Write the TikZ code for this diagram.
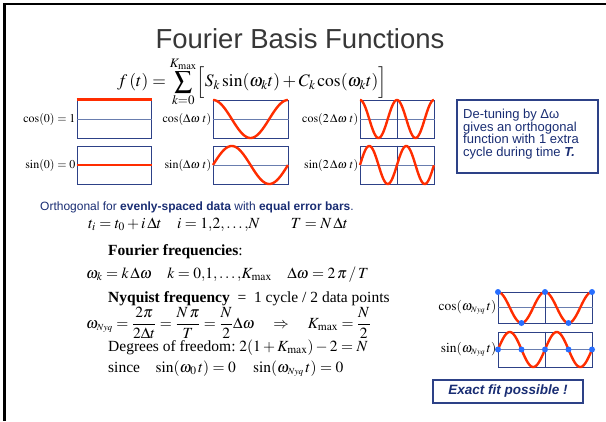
\documentclass[tikz,border=0pt]{standalone}
\usepackage{mathptmx}
\usepackage{fontspec}
\setmainfont{Liberation Serif}
\newfontfamily\arial{Liberation Sans}
\definecolor{boxc}{RGB}{45,65,135}
\definecolor{midc}{RGB}{105,125,175}
\definecolor{wavec}{RGB}{255,45,0}
\definecolor{navy}{RGB}{25,45,115}
\definecolor{dotc}{RGB}{40,110,255}
\definecolor{titlec}{RGB}{55,55,55}
\tikzset{
  plotbox/.style={draw=boxc, line width=1pt, inner sep=0pt},
  midline/.style={draw=midc, line width=1pt},
  vline/.style={draw=boxc, line width=0.9pt},
  wave/.style={draw=wavec, line width=2.4pt},
  lab/.style={anchor=east, inner sep=1pt, font=\fontsize{12}{12}\selectfont},
  nlab/.style={anchor=east, inner sep=1pt, font=\fontsize{13.5}{14}\selectfont},
  mline/.style={anchor=base west, inner sep=0pt, font=\fontsize{15.5}{17}\selectfont},
  ndot/.style={circle, fill=dotc, inner sep=0pt, minimum size=6pt},
  infobox/.style={draw=boxc, line width=1.2pt, inner sep=0pt, text=navy}
}
\begin{document}
\begin{tikzpicture}[x=1pt,y=-1pt]
\useasboundingbox (0,0) rectangle (606,421);
% frame
\draw[line width=2pt] (3,4) -- (606,4);
\draw[line width=3pt] (4.5,3) -- (4.5,421);
% title
\node[font={\arial\fontsize{27.5}{29}\selectfont}, text=titlec, inner sep=0pt] (title) at (300,39) {Fourier Basis Functions};
\node[font=\fontsize{17.5}{19}\selectfont, inner sep=0pt] (formula) at (252,82)
  {$\displaystyle f\,(t) = \sum_{k=0}^{K_{\max}} \Bigl[ S_k \sin(\omega_k t) + C_k \cos(\omega_k t) \Bigr]$};
% boxes row 1
\node[plotbox, minimum width=74pt, minimum height=38pt] (b1) at (114,119) {};
\node[plotbox, minimum width=75pt, minimum height=38pt] (b2) at (250.5,119) {};
\node[plotbox, minimum width=74pt, minimum height=38pt] (b3) at (397,119) {};
% boxes row 2
\node[plotbox, minimum width=74pt, minimum height=38pt] (b4) at (114,165) {};
\node[plotbox, minimum width=75pt, minimum height=38pt] (b5) at (250.5,165) {};
\node[plotbox, minimum width=74pt, minimum height=38pt] (b6) at (397,165) {};
\foreach \b in {b1,b2,b3,b4,b5,b6} {\draw[midline] (\b.west) -- (\b.east);}
\draw[vline] (b3.north) -- (b3.south);
\draw[vline] (b6.north) -- (b6.south);
% waves
\draw[wave] (b1.north west) -- (b1.north east);
\draw[wave] (b4.west) -- (b4.east);
\draw[wave] plot[domain=0:1,samples=80] ({213+75*\x},{119-19*cos(360*\x)});
\draw[wave] plot[domain=0:1,samples=100] ({360+74*\x},{119-19*cos(720*\x)});
\draw[wave] plot[domain=0:1,samples=80] ({213+75*\x},{165-19*sin(360*\x)});
\draw[wave] plot[domain=0:1,samples=100] ({360+74*\x},{165-19*sin(720*\x)});
% labels
\node[lab] (l1) at (b1.west) {$\cos(0) = 1$};
\node[lab] (l2) at (b2.west) {$\cos(\Delta\omega\ t)$};
\node[lab] (l3) at (b3.west) {$\cos(2\,\Delta\omega\ t)$};
\node[lab] (l4) at (b4.west) {$\sin(0) = 0$};
\node[lab] (l5) at (b5.west) {$\sin(\Delta\omega\ t)$};
\node[lab] (l6) at (b6.west) {$\sin(2\,\Delta\omega\ t)$};
% detuning box
\node[infobox, minimum width=141pt, minimum height=73pt] (detune) at (527.5,136.5) {};
\node[anchor=west, inner sep=0pt, align=left, text=navy,
      font={\arial\fontsize{13}{12.6}\selectfont}] (detunetext) at (463,134)
  {De-tuning by Δω\\gives an orthogonal\\function with 1 extra\\cycle during time \textit{\textbf{T.}}};
% orthogonal line
\node[anchor=base west, inner sep=0pt, text=navy, font={\arial\fontsize{12}{13}\selectfont}] (orth) at (40,210)
  {Orthogonal for \textbf{evenly-spaced data} with \textbf{equal error bars}.};
% math lines
\node[mline] (m1) at (88,228) {$t_i = t_0 + i\,\Delta t \quad i = 1{,}2{,}\ldots{,}N \qquad T = N\,\Delta t$};
\node[mline] (m2) at (108,255) {\textbf{Fourier frequencies}:};
\node[mline] (m3) at (86,278) {$\omega_k = k\,\Delta\omega \quad k = 0{,}1{,}\ldots{,}K_{\max} \quad \Delta\omega = 2\,\pi\,/\,T$};
\node[mline] (m4) at (108,302) {\textbf{Nyquist frequency}\ \ =\ \ 1 cycle / 2 data points};
\node[mline, anchor=west] (m5) at (86,323) {$\displaystyle\omega_{\scriptscriptstyle Nyq} = \frac{2\pi}{2\Delta t} = \frac{N\,\pi}{T} = \frac{N}{2}\Delta\omega \quad\Rightarrow\quad K_{\max} = \frac{N}{2}$};
\node[mline] (m6) at (108,351) {Degrees of freedom:\ $2(1 + K_{\max}) - 2 = N$};
\node[mline] (m7) at (108,372) {since\quad $\sin(\omega_0\,t) = 0 \quad \sin(\omega_{\scriptscriptstyle Nyq}\,t) = 0$};
% Nyquist boxes
\node[plotbox, minimum width=94pt, minimum height=31pt] (n1) at (545,307.5) {};
\node[plotbox, minimum width=94pt, minimum height=35pt] (n2) at (545,349.5) {};
\draw[midline] (n1.west) -- (n1.east);
\draw[midline] (n2.west) -- (n2.east);
\draw[vline] (n1.north) -- (n1.south);
\draw[vline] (n2.north) -- (n2.south);
\draw[wave] plot[domain=0:1,samples=100] ({498+94*\x},{307.5-15.5*cos(720*\x)});
\draw[wave] plot[domain=0:1,samples=100] ({498+94*\x},{349.5-17.5*sin(720*\x)});
\foreach \i in {0,1,2,3,4} {
  \node[ndot] (c\i) at ({498+23.5*\i},{307.5-15.5*cos(180*\i)}) {};
  \node[ndot] (s\i) at ({498+23.5*\i},349.5) {};
}
\node[nlab] (ln1) at (n1.west) {$\cos(\omega_{\scriptscriptstyle Nyq}\,t)$};
\node[nlab] (ln2) at (n2.west) {$\sin(\omega_{\scriptscriptstyle Nyq}\,t)$};
% exact fit box
\node[infobox, minimum width=150pt, minimum height=23pt,
      font={\arial\fontsize{13.5}{14}\selectfont\bfseries\itshape}] (exact) at (508,391.5) {Exact fit possible !};
\end{tikzpicture}
\end{document}
